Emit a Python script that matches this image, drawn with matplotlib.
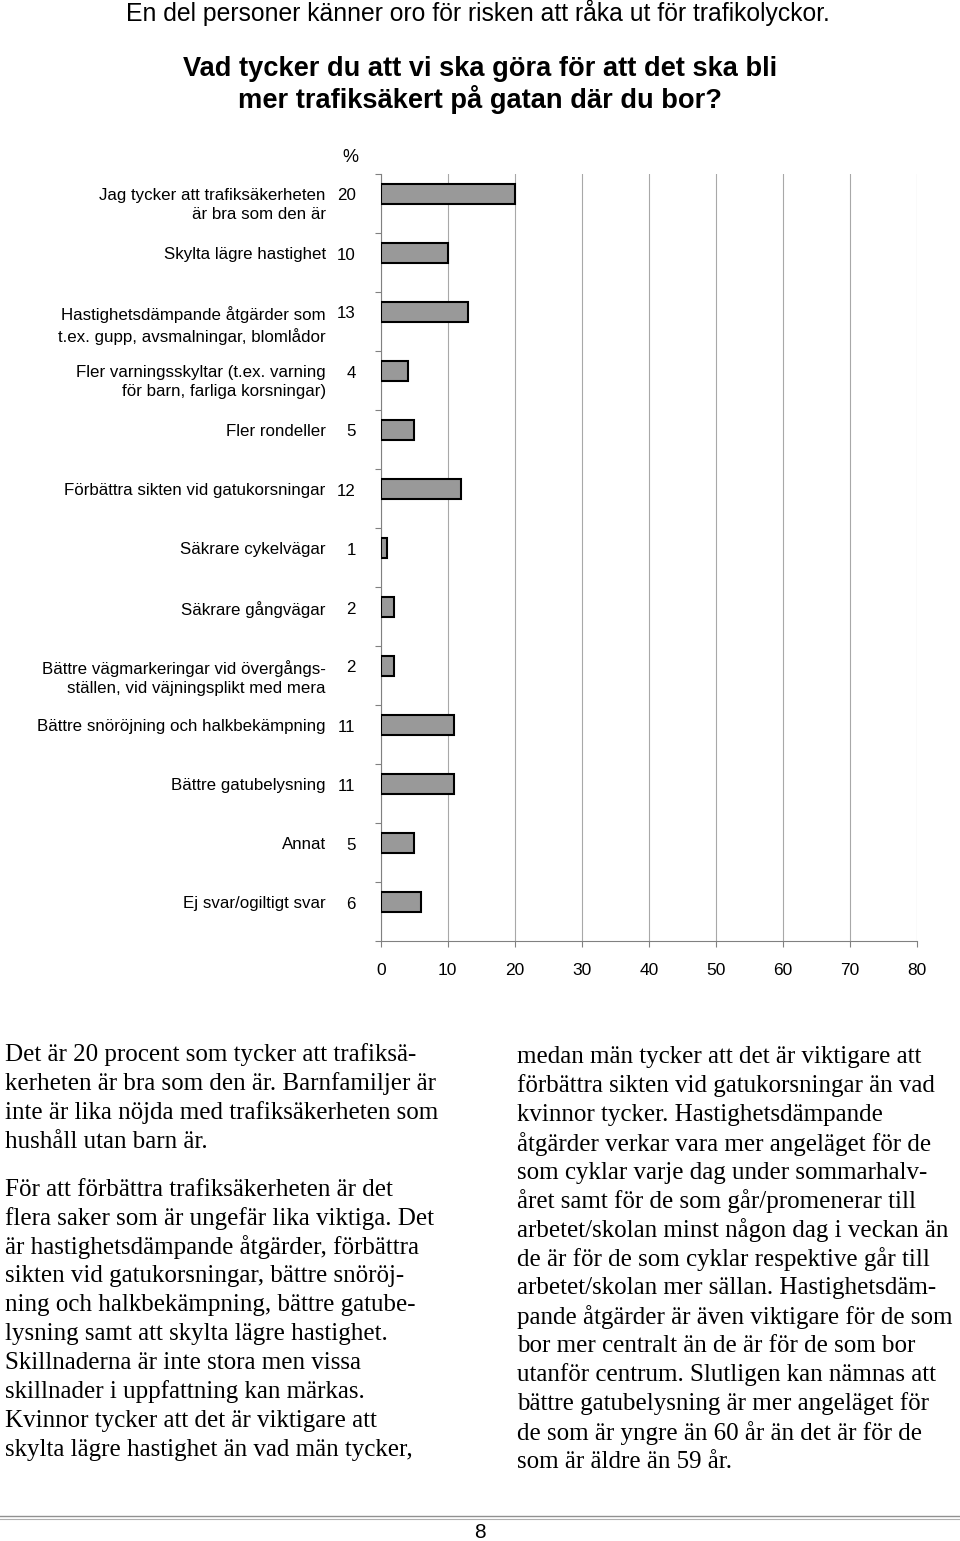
import numpy as np
import matplotlib.pyplot as plt
from matplotlib.transforms import blended_transform_factory

# chart data
categories = [
  "Jag tycker att trafiksäkerheten\när bra som den är",
  "Skylta lägre hastighet",
  "Hastighetsdämpande åtgärder som\nt.ex. gupp, avsmalningar, blomlådor",
  "Fler varningsskyltar (t.ex. varning\nför barn, farliga korsningar)",
  "Fler rondeller",
  "Förbättra sikten vid gatukorsningar",
  "Säkrare cykelvägar",
  "Säkrare gångvägar",
  "Bättre vägmarkeringar vid övergångs-\nställen, vid väjningsplikt med mera",
  "Bättre snöröjning och halkbekämpning",
  "Bättre gatubelysning",
  "Annat",
  "Ej svar/ogiltigt svar",
]
percent = [20, 10, 13, 4, 5, 12, 1, 2, 2, 11, 11, 5, 6]
x_ticks = [0, 10, 20, 30, 40, 50, 60, 70, 80]

intro = "En del personer känner oro för risken att råka ut för trafikolyckor."
question = "Vad tycker du att vi ska göra för att det ska bli\nmer trafiksäkert på gatan där du bor?"

left_col = [
  ["Det är 20 procent som tycker att trafiksä-",
   "kerheten är bra som den är. Barnfamiljer är",
   "inte är lika nöjda med trafiksäkerheten som",
   "hushåll utan barn är."],
  ["För att förbättra trafiksäkerheten är det",
   "flera saker som är ungefär lika viktiga. Det",
   "är hastighetsdämpande åtgärder, förbättra",
   "sikten vid gatukorsningar, bättre snöröj-",
   "ning och halkbekämpning, bättre gatube-",
   "lysning samt att skylta lägre hastighet.",
   "Skillnaderna är inte stora men vissa",
   "skillnader i uppfattning kan märkas.",
   "Kvinnor tycker att det är viktigare att",
   "skylta lägre hastighet än vad män tycker,"],
]
right_col = [
  "medan män tycker att det är viktigare att",
  "förbättra sikten vid gatukorsningar än vad",
  "kvinnor tycker. Hastighetsdämpande",
  "åtgärder verkar vara mer angeläget för de",
  "som cyklar varje dag under sommarhalv-",
  "året samt för de som går/promenerar till",
  "arbetet/skolan minst någon dag i veckan än",
  "de är för de som cyklar respektive går till",
  "arbetet/skolan mer sällan. Hastighetsdäm-",
  "pande åtgärder är även viktigare för de som",
  "bor mer centralt än de är för de som bor",
  "utanför centrum. Slutligen kan nämnas att",
  "bättre gatubelysning är mer angeläget för",
  "de som är yngre än 60 år än det är för de",
  "som är äldre än 59 år.",
]
page_no = "8"

W, H = 960, 1541
SANS = "Liberation Sans"
SERIF = "Liberation Serif"

fig = plt.figure(figsize=(W / 100, H / 100), dpi=100)
fig.patch.set_facecolor("white")

def fy(py):
  return 1 - py / H

# header
fig.text(478 / W, fy(13), intro, ha="center", va="center", family=SANS, fontsize=17.8)
fig.text(480 / W, fy(85), question, ha="center", va="center", family=SANS,
         fontsize=19.6, fontweight="bold", linespacing=1.15)

# chart axes (pixel layout)
ax_l, ax_r, ax_t, ax_b = 380.7, 917, 174, 941
ax = fig.add_axes([ax_l / W, fy(ax_b), (ax_r - ax_l) / W, (ax_b - ax_t) / H])
n = len(categories)
centers = np.arange(n) + 20 / 59
ax.barh(centers, percent, height=0.34, color="#999999", edgecolor="black",
        linewidth=1.5, zorder=3)
ax.set_xlim(0, 80)
ax.set_ylim(n, 0)
ax.set_xticks(x_ticks)
ax.set_xticklabels([str(t) for t in x_ticks], family=SANS, fontsize=12.5)
ax.tick_params(axis="x", direction="out", length=4, width=0.8, color="#808080", pad=12)
ax.set_yticks([])
ax.set_yticks(np.arange(n + 1), minor=True)
ax.tick_params(axis="y", which="minor", direction="out", length=4, width=0.8,
               color="#808080")
ax.xaxis.grid(True, color="#a8a8a8", linewidth=0.8, zorder=0)
for s in ["top", "right"]:
  ax.spines[s].set_visible(False)
for s in ["left", "bottom"]:
  ax.spines[s].set_color("#808080")
  ax.spines[s].set_linewidth(0.8)

trans = blended_transform_factory(ax.transAxes, ax.transData)
for yc, lab, val in zip(centers, categories, percent):
  ax.annotate(lab, xy=(0, yc), xycoords=trans, xytext=(-55, 6),
              textcoords="offset pixels", ha="right", va="top",
              multialignment="right", family=SANS, fontsize=12.2, linespacing=1.33)
  ax.annotate(str(val), xy=(0, yc), xycoords=trans, xytext=(-25, -2),
              textcoords="offset pixels", ha="right", va="center",
              family=SANS, fontsize=12.2)
fig.text(350 / W, fy(157), "%", ha="center", va="center", family=SANS, fontsize=13)

# body text
LS = 28.9
y = 1055
for para in left_col:
  for line in para:
    fig.text(5 / W, fy(y), line, ha="left", va="center", family=SERIF, fontsize=18)
    y += LS
  y += 48 - LS
y = 1057
for line in right_col:
  fig.text(517 / W, fy(y), line, ha="left", va="center", family=SERIF, fontsize=18)
  y += LS

# footer
fig.add_artist(plt.Line2D([0, 1], [fy(1516), fy(1516)], color="#909090", linewidth=1.0))
fig.add_artist(plt.Line2D([0, 1], [fy(1518.5), fy(1518.5)], color="#b0b0b0", linewidth=0.8))
fig.text(480 / W, fy(1532), page_no, ha="center", va="center", family=SANS, fontsize=15)

fig.savefig("out.png", dpi=100, facecolor="white")
